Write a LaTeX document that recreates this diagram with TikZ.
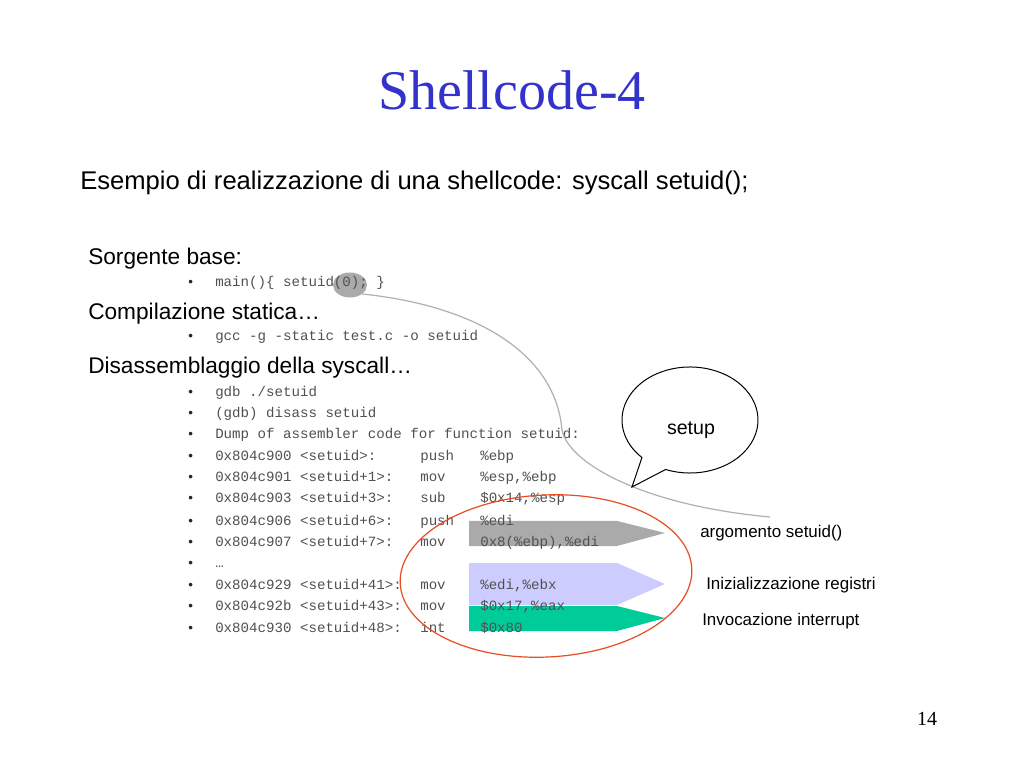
\documentclass[tikz,border=0pt]{standalone}
\usepackage{fontspec}
\setmainfont{Liberation Sans}
\newfontfamily\codefont{Liberation Mono}
\newfontfamily\titlefont{Liberation Serif}
\usetikzlibrary{shapes.geometric,calc}
\definecolor{titleblue}{RGB}{51,51,204}
\definecolor{codegray}{RGB}{80,80,80}
\definecolor{hlgray}{RGB}{170,170,170}
\definecolor{arrgray}{RGB}{170,170,170}
\definecolor{lavender}{RGB}{204,204,255}
\definecolor{mint}{RGB}{0,204,153}
\definecolor{redline}{RGB}{232,76,34}
\definecolor{curvegray}{RGB}{176,176,176}
\begin{document}
\begin{tikzpicture}[x=0.75pt,y=0.75pt,
  codetxt/.style={font=\codefont\fontsize{10.6}{12}\selectfont, text=codegray, anchor=base west, inner sep=0pt},
  bul/.style={font=\fontsize{10}{12}\selectfont, text=black!85, anchor=base west, inner sep=0pt},
  head/.style={font=\fontsize{17}{20}\selectfont, anchor=base west, inner sep=0pt},
  lab/.style={font=\fontsize{12.7}{15}\selectfont, anchor=base west, inner sep=0pt}]
\useasboundingbox (0,0) rectangle (1024,768);
\fill[white] (0,0) rectangle (1024,768);

% title
\node[font=\titlefont\fontsize{42}{48}\selectfont, text=titleblue, anchor=base, inner sep=0pt] (title) at (512,658) {Shellcode-4};
\node[font=\fontsize{19.2}{23}\selectfont, anchor=base west, inner sep=0pt] (sub) at (80,578) {Esempio di realizzazione di una shellcode: syscall setuid();};

% highlight
\node[ellipse, fill=hlgray, minimum width=25.5pt, minimum height=18.75pt, inner sep=0pt] (hl) at (350,483) {};

% headings
\node[head] (h1) at (88,503) {Sorgente base:};
\node[head] (h2) at (88,448) {Compilazione statica…};
\node[head] (h3) at (88,394) {Disassemblaggio della syscall…};

% arrow shapes
\fill[arrgray] (469,247) -- (617,247) -- (665,235) -- (617,222) -- (469,222) -- cycle;
\fill[lavender] (469,205) -- (617,205) -- (665,184) -- (617,163) -- (469,163) -- cycle;
\fill[mint] (469,162) -- (617,162) -- (665,150) -- (617,137) -- (469,137) -- cycle;

% bullets
\foreach \yy/\nm in {481/b1,427/b2,371/b3,350/b4,329/b5,307/b6,286/b7,265/b8,243/b9,222/b10,201/b11,179/b12,158/b13,136/b14}
  \node[bul] (\nm) at (188,\yy) {•};

% code lines
\node[codetxt] (c1) at (215,481) {main()\{ setuid(0); \}};
\node[codetxt] (c2) at (215,427) {gcc -g -static test.c -o setuid};
\node[codetxt] (c3) at (215,371) {gdb ./setuid};
\node[codetxt] (c4) at (215,350) {(gdb) disass setuid};
\node[codetxt] (c5) at (215,329) {Dump of assembler code for function setuid:};
\node[codetxt] (a6) at (215,307) {0x804c900 <setuid>:};
\node[codetxt] (m6) at (420,307) {push};
\node[codetxt] (o6) at (480,307) {\%ebp};
\node[codetxt] (a7) at (215,286) {0x804c901 <setuid+1>:};
\node[codetxt] (m7) at (420,286) {mov};
\node[codetxt] (o7) at (480,286) {\%esp,\%ebp};
\node[codetxt] (a8) at (215,265) {0x804c903 <setuid+3>:};
\node[codetxt] (m8) at (420,265) {sub};
\node[codetxt] (o8) at (480,265) {\$0x14,\%esp};
\node[codetxt] (a9) at (215,243) {0x804c906 <setuid+6>:};
\node[codetxt] (m9) at (420,243) {push};
\node[codetxt] (o9) at (480,243) {\%edi};
\node[codetxt] (a10) at (215,222) {0x804c907 <setuid+7>:};
\node[codetxt] (m10) at (420,222) {mov};
\node[codetxt] (o10) at (480,222) {0x8(\%ebp),\%edi};
\node[codetxt] (c11) at (215,201) {…};
\node[codetxt] (a12) at (215,179) {0x804c929 <setuid+41>:};
\node[codetxt] (m12) at (420,179) {mov};
\node[codetxt] (o12) at (480,179) {\%edi,\%ebx};
\node[codetxt] (a13) at (215,158) {0x804c92b <setuid+43>:};
\node[codetxt] (m13) at (420,158) {mov};
\node[codetxt] (o13) at (480,158) {\$0x17,\%eax};
\node[codetxt] (a14) at (215,136) {0x804c930 <setuid+48>:};
\node[codetxt] (m14) at (420,136) {int};
\node[codetxt] (o14) at (480,136) {\$0x80};

% gray curve
\coordinate (cmid) at (562,338);
\coordinate (cend) at (770,251);
\draw[curvegray, line width=0.9pt] (hl.south east) .. controls (470,463) and (555,418) .. (cmid)
  .. controls (568,306) and (640,263) .. (cend);

% red ellipse
\draw[redline, line width=0.9pt, rotate around={3:(546,192)}] (546,192) ellipse [x radius=109.5pt, y radius=60.75pt];

% speech bubble
\coordinate (bc) at (690,348);
\coordinate (tip) at (632,281);
\draw[black, fill=white, line width=0.75pt] ($(bc)+(249:51pt and 39.75pt)$) arc[start angle=249, end angle=585, x radius=51pt, y radius=39.75pt] -- (tip) -- cycle;
\node[font=\fontsize{14.7}{17}\selectfont, inner sep=0pt] (setup) at (691,338) {setup};

% labels
\node[lab] (l1) at (700,231) {argomento setuid()};
\node[lab] (l2) at (706,179) {Inizializzazione registri};
\node[lab] (l3) at (702,143) {Invocazione interrupt};

% page number
\node[font=\titlefont\fontsize{15}{18}\selectfont, anchor=base, inner sep=0pt] (pg) at (927,43) {14};
\end{tikzpicture}
\end{document}
